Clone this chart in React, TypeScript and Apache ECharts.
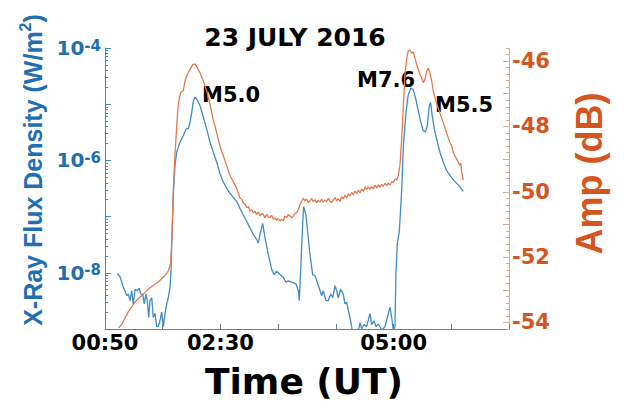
import React, { useEffect, useRef } from "react";
import * as echarts from "echarts";

// X-ray flux (GOES) — time in minutes after 00:00 UT, flux in W/m^2
const blueTime = [60.7,63,64.5,65.9,67.3,68.8,70.2,71.7,73.1,74.5,76,77.5,79.7,80.9,82.7,84,85.5,86.6,87.9,89,90.5,91.8,93.3,94.8,96.2,97.6,99.1,100.5,102,103.5,104.8,106.3,107.2,108,109.2,110.6,112.1,115,117.8,120.2,122.2,123.6,125.1,126.5,127.9,129.9,132.3,135.2,138.1,141,143.8,146.8,149.6,152.5,155.4,158.3,161.1,164.1,166.9,169.8,172.8,175.6,178.5,181.4,182.8,184.3,186.6,188.6,191.5,194.4,196.4,198.7,201.6,204.5,206.8,208.8,211.7,215.5,217.5,218.3,219.5,220.7,222,224.1,226.1,227.6,229.9,231.9,233.4,236.3,237.7,239.1,241.4,243.4,245.5,247.3,249.3,250.7,252.1,254.2,256.4,257.9,259.4,260.8,262.2,263.7,265.1,267.4,271,272.4,274.4,276.7,279.6,281,283,284.8,286.8,289.7,292.6,294.6,296.9,298.4,299.7,301.2,302.1,303.2,305,307,308.6,310.8,312.7,315.1,317.1,319.4,321.4,323.7,325.7,327.5,329.2,330.9,332.1,333.5,335.3,337.3,340.2,343.1,346,348.9,351.7,354.7,357.5,360.4];
const blueFlux = [9.8e-9,8.5e-9,6.8e-9,5.5e-9,4.8e-9,3.9e-9,4.2e-9,3.2e-9,4.8e-9,2.8e-9,5.1e-9,4.8e-9,5.3e-9,4.2e-9,4.1e-9,2.8e-9,4.2e-9,3.2e-9,1.6e-9,3.2e-9,3.6e-9,1.6e-9,1.9e-9,1.1e-9,1.1e-9,1.4e-9,2.0e-9,1.1e-9,1.9e-9,2.8e-9,3.6e-9,5.5e-9,1.07e-8,4.2e-8,2.4e-7,8.1e-7,1.4e-6,2.1e-6,2.75e-6,3.6e-6,3.7e-6,4.7e-6,7.1e-6,1.13e-5,1.35e-5,1.2e-5,9.5e-6,5.9e-6,3.6e-6,2.1e-6,1.4e-6,9.3e-7,5.8e-7,4.1e-7,3.2e-7,2.6e-7,2.2e-7,1.85e-7,1.4e-7,1.07e-7,8.2e-8,6.3e-8,4.8e-8,3.9e-8,3.4e-8,4.8e-8,7.6e-8,4.2e-8,2.1e-8,1.15e-8,9.3e-9,1.07e-8,9.3e-9,8.3e-9,6.8e-9,7.2e-9,6.8e-9,6.3e-9,4.8e-9,3.2e-9,1.07e-8,4.2e-8,1.5e-7,1.07e-7,4.2e-8,2.1e-8,9.3e-9,8.9e-9,7.2e-9,4.8e-9,3.9e-9,4.8e-9,3.2e-9,3.2e-9,4.2e-9,3.6e-9,5.9e-9,4.8e-9,3.6e-9,5.1e-9,4.2e-9,2.8e-9,3.0e-9,2.15e-9,1.6e-9,1.1e-9,7.2e-10,6e-10,1.3e-9,1.0e-9,1.2e-9,1.1e-9,1.9e-9,1.2e-9,1.4e-9,1.1e-9,1.23e-9,9.5e-10,1.1e-9,1.6e-9,2.45e-9,1.6e-9,9.5e-10,1.1e-9,1.07e-8,3.2e-8,5.5e-8,2.9e-7,1.95e-6,7.1e-6,1.48e-5,1.95e-5,1.8e-5,1.2e-5,7.6e-6,4.7e-6,3.4e-6,3.2e-6,4.1e-6,9.3e-6,1.07e-5,6.2e-6,3.6e-6,2.4e-6,1.4e-6,9.3e-7,6.6e-7,5.4e-7,4.5e-7,3.9e-7,3.4e-7,2.8e-7];

// VLF amplitude — time in minutes after 00:00 UT, amplitude in dB
const ampTime = [61.5,64.5,67.3,70.2,73.1,76.0,78.8,81.8,84.7,87.5,90.5,93.3,96.2,99.1,102.0,104.8,106.9,108.0,109.2,110.6,112.1,113.5,115.6,117.8,119.3,121.3,123.6,126.0,128.0,130.0,132.3,135.2,138.1,141.0,143.8,146.8,149.6,152.5,155.4,158.3,161.1,164.1,166.9,168.3,169.8,171.3,172.8,174.2,175.6,177.0,178.5,180.0,181.4,182.9,184.3,185.7,187.1,188.6,190.1,191.5,192.9,194.4,195.8,197.2,198.7,200.1,201.6,203.0,204.5,206.0,207.4,208.8,210.3,211.7,213.2,214.6,216.1,217.5,218.9,220.3,221.8,223.2,224.7,226.1,227.6,229.0,230.4,231.9,233.4,234.8,236.3,237.7,239.1,240.6,242.1,243.5,244.9,246.4,247.8,249.3,250.7,252.1,253.6,255.0,256.4,257.9,259.4,260.8,262.2,263.7,265.1,266.6,268.0,269.5,270.9,272.4,273.8,275.3,276.7,278.2,279.6,281.0,282.4,283.9,285.4,286.8,288.2,289.7,291.1,292.6,294.0,295.5,296.9,298.4,299.8,301.3,302.7,304.1,305.5,307.0,308.4,309.9,311.4,312.7,314.2,315.7,317.1,318.5,320.0,321.4,322.9,324.3,325.7,327.2,328.7,330.1,331.5,333.0,334.4,337.3,340.2,343.1,346.0,348.9,350.3,351.7,353.2,354.7,356.1,357.5,358.3,359.0,360.4];
const ampDb = [-54.17,-54.07,-53.87,-53.67,-53.53,-53.38,-53.27,-53.18,-53.08,-52.98,-52.90,-52.83,-52.76,-52.66,-52.56,-52.43,-52.18,-51.39,-49.89,-48.90,-48.00,-47.30,-46.96,-46.91,-46.61,-46.41,-46.26,-46.11,-46.09,-46.21,-46.36,-46.61,-46.91,-47.33,-47.80,-48.20,-48.60,-48.90,-49.20,-49.50,-49.69,-49.89,-50.19,-50.22,-50.34,-50.38,-50.49,-50.45,-50.59,-50.55,-50.64,-50.60,-50.69,-50.62,-50.74,-50.66,-50.69,-50.80,-50.69,-50.77,-50.79,-50.72,-50.84,-50.80,-50.87,-50.82,-50.89,-50.84,-50.89,-50.74,-50.79,-50.70,-50.74,-50.80,-50.74,-50.66,-50.64,-50.55,-50.39,-50.30,-50.19,-50.28,-50.22,-50.33,-50.27,-50.21,-50.30,-50.24,-50.34,-50.26,-50.31,-50.22,-50.32,-50.25,-50.30,-50.20,-50.29,-50.33,-50.24,-50.17,-50.28,-50.21,-50.30,-50.15,-50.22,-50.10,-50.19,-50.06,-50.13,-50.02,-50.09,-49.98,-50.05,-49.95,-50.03,-49.92,-49.99,-49.86,-49.93,-49.85,-49.92,-49.84,-49.91,-49.80,-49.88,-49.79,-49.86,-49.77,-49.83,-49.74,-49.81,-49.73,-49.80,-49.70,-49.72,-49.60,-49.64,-49.50,-49.20,-48.40,-47.41,-46.41,-45.91,-45.69,-45.66,-45.76,-45.71,-45.91,-46.11,-46.26,-46.41,-46.51,-46.66,-46.56,-46.31,-46.21,-46.36,-46.61,-46.91,-47.30,-47.60,-47.90,-48.20,-48.50,-48.58,-48.80,-48.90,-49.00,-49.10,-49.20,-49.12,-49.39,-49.64];

const xLabelValues = [50, 150, 300];
const xLabelTexts = ["00:50", "02:30", "05:00"];
const ampMajorTicks = [-54, -53, -52, -51, -50, -49, -48, -47, -46];
const fluxDecades = [1e-9, 1e-8, 1e-7, 1e-6, 1e-5];
const minorMultipliers = [2, 3, 4, 5, 6, 7, 8, 9];

const flares = [
  { text: "M5.0", x: 202, y: 95 },
  { text: "M7.6", x: 357, y: 80 },
  { text: "M5.5", x: 435, y: 105 },
];

const DV = '"DejaVu Sans", sans-serif';
const LS = '"Liberation Sans", Arial, sans-serif';
const BLUE_TXT = "#1f6fb2";
const ORANGE_TXT = "#d4561e";

export default function App() {
  const ref = useRef<HTMLDivElement>(null);
  useEffect(() => {
    if (!ref.current) return;
    const chart = echarts.init(ref.current, undefined, { renderer: "svg" });
    const minorFlux: number[] = [];
    fluxDecades.forEach((d) => minorMultipliers.forEach((m) => minorFlux.push(d * m)));
    const textStyleBase = (t: string, x: number, y: number, size: number, align: string) => ({
      type: "text",
      silent: true,
      style: {
        text: t, x, y,
        align, textAlign: align,
        verticalAlign: "middle", textVerticalAlign: "middle",
        font: `bold ${size}px ${DV}`,
        fill: "#000",
      },
    });
    chart.setOption({
      animation: false,
      backgroundColor: "#fff",
      grid: { left: 105, right: 117, top: 48, bottom: 72, containLabel: false },
      xAxis: {
        type: "value", min: 50, max: 400, interval: 50,
        axisLine: { lineStyle: { color: "#7a7a7a", width: 1 } },
        axisTick: { inside: true, length: 5, lineStyle: { color: "#7a7a7a" } },
        axisLabel: {
          formatter: (v: number) => {
            const i = xLabelValues.indexOf(Math.round(v));
            return i >= 0 ? xLabelTexts[i] : "";
          },
          fontFamily: DV, fontWeight: "bold", fontSize: 21, color: "#000", margin: 3,
        },
        splitLine: { show: false },
        name: "Time (UT)", nameLocation: "middle", nameGap: 34,
        nameTextStyle: { fontFamily: DV, fontWeight: "bold", fontSize: 36, color: "#000", padding: [0, 6, 0, 0] },
      },
      yAxis: [
        {
          type: "log", logBase: 10, min: 1e-9, max: 1e-4, position: "left",
          axisLine: { show: true, lineStyle: { color: "#3f87c4" } },
          axisTick: { show: true, inside: true, length: 6, lineStyle: { color: "#3f87c4" } },
          axisLabel: {
            formatter: (v: number) => {
              const e = Math.round(Math.log10(v));
              return e % 2 === 0 ? `{b|10}{s|${e}}` : "";
            },
            margin: 4,
            rich: {
              b: { fontFamily: DV, fontWeight: "bold", fontSize: 20, color: BLUE_TXT, lineHeight: 20, verticalAlign: "bottom" },
              s: { fontFamily: DV, fontWeight: "bold", fontSize: 15, color: BLUE_TXT, lineHeight: 15, verticalAlign: "top", padding: [0, 0, 9, 0] },
            },
          },
          splitLine: { show: false },
          name: "{a|X-Ray Flux Density (W/m}{s|2}{a|)}",
          nameLocation: "middle", nameGap: 52, nameRotate: 90,
          nameTextStyle: {
            padding: [0, 0, 0, 37],
            rich: {
              a: { fontFamily: LS, fontWeight: "bold", fontSize: 25, color: BLUE_TXT, lineHeight: 28, verticalAlign: "bottom" },
              s: { fontFamily: LS, fontWeight: "bold", fontSize: 16, color: BLUE_TXT, lineHeight: 16, verticalAlign: "top" },
            },
          },
        },
        {
          type: "value", min: -54.2, max: -45.6, interval: 0.2, position: "right",
          axisLine: { show: true, lineStyle: { color: "#e3a88c" } },
          axisTick: { show: true, inside: true, length: 3, lineStyle: { color: "#e3a88c" } },
          axisLabel: {
            formatter: (v: number) => {
              const r = Math.round(v);
              return Math.abs(v - r) < 1e-6 && r % 2 === 0 ? String(r) : "";
            },
            fontFamily: DV, fontWeight: "bold", fontSize: 21, color: ORANGE_TXT, margin: 3,
          },
          splitLine: { show: false },
          name: "Amp (dB)", nameLocation: "middle", nameGap: 62, nameRotate: 90,
          nameTextStyle: { fontFamily: LS, fontWeight: "bold", fontSize: 36, color: ORANGE_TXT, padding: [0, 0, 0, 30] },
        },
        {
          type: "log", logBase: 10, min: 1e-9, max: 1e-4, position: "left",
          axisLine: { show: false }, axisLabel: { show: false }, splitLine: { show: false },
          axisTick: { show: true, inside: true, length: 3, customValues: minorFlux, lineStyle: { color: "#3f87c4" } },
        },
        {
          type: "value", min: -54.2, max: -45.6, position: "right",
          axisLine: { show: false }, axisLabel: { show: false }, splitLine: { show: false },
          axisTick: { show: true, inside: true, length: 6, customValues: ampMajorTicks, lineStyle: { color: "#e3a88c" } },
        },
      ],
      series: [
        {
          type: "line", name: "X-ray flux", yAxisIndex: 0, symbol: "none", showSymbol: false,
          data: blueTime.map((t, i) => [t, blueFlux[i]]),
          color: "#3f8bc8", lineStyle: { color: "#3f8bc8", width: 1.3 }, z: 2,
        },
        {
          type: "line", name: "Amplitude", yAxisIndex: 1, symbol: "none", showSymbol: false,
          data: ampTime.map((t, i) => [t, ampDb[i]]),
          color: "#e27a4c", lineStyle: { color: "#e27a4c", width: 1.3 }, z: 3,
        },
      ],
      graphic: [
        textStyleBase("23 JULY 2016", 295, 37, 25, "center"),
        ...flares.map((f) => textStyleBase(f.text, f.x, f.y, 21, "left")),
      ],
    });
    return () => chart.dispose();
  }, []);
  return (
    <div
      ref={ref}
      style={{ position: "absolute", left: 0, top: 0, width: 626, height: 404, background: "#fff" }}
    />
  );
}
